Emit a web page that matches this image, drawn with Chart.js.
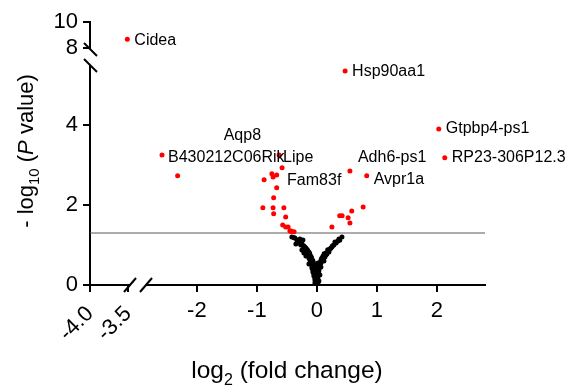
<!DOCTYPE html>
<html><head><meta charset="utf-8">
<script src="https://cdn.jsdelivr.net/npm/chart.js@4/dist/chart.umd.min.js"></script>
<style>html,body{margin:0;padding:0;background:#fff}#wrap{width:572px;height:389px;position:relative}</style>
</head><body><div id="wrap"><canvas id="c" width="572" height="389"></canvas></div>
<script>
// ---- data ----
const geneNames = ['Hsp90aa1','Gtpbp4-ps1','RP23-306P12.3','Adh6-ps1','Avpr1a','B430212C06Rik','Lipe','Fam83f','Aqp8'];
const geneX     = [0.47, 2.03, 2.13, 0.55, 0.83, -2.58, -0.63, -0.58, -0.67];
const geneY     = [5.35, 3.90, 3.18, 2.85, 2.73, 3.25, 3.25, 2.93, 2.75];
const brokenGeneNames = ['Cidea'];
const brokenGeneX = [-3.51];
const brokenGeneY = [8.64];
const redX = [-2.32,-0.75,-0.73,-0.88,-0.67,-0.72,-0.90,-0.73,-0.55,-0.72,-0.52,-0.57,-0.52,-0.48,-0.45,-0.42,-0.38,-0.43,
              0.77,0.58,0.38,0.42,0.52,0.55,0.25];
const redY = [2.73,2.78,2.70,2.63,2.43,2.18,1.93,1.93,1.93,1.78,1.70,1.50,1.45,1.45,1.35,1.33,1.33,1.35,
              1.95,1.85,1.73,1.73,1.68,1.55,1.45];
const blackX = [-0.417,-0.367,-0.333,-0.283,-0.233,-0.30,-0.267,-0.217,-0.20,-0.167,-0.15,-0.183,-0.133,-0.117,-0.10,-0.133,-0.083,-0.083,-0.067,-0.067,-0.05,-0.05,-0.033,-0.033,-0.017,-0.017,0.0,
                0.417,0.367,0.30,0.283,0.233,0.20,0.167,0.133,0.10,0.083,0.067,0.05,0.033,0.033,0.017,0.017,0.017,0.0,
                -0.35,-0.25,-0.217,-0.117,-0.10,-0.067,-0.05,-0.033,0.0,0.0,-0.017,0.017,0.033,-0.033,0.05,0.067,0.117,0.15,0.25,0.35,-0.20,-0.15,-0.25,0.0,0.0,-0.017,0.017,
                -0.01,0.01,0.0,-0.02,0.02,0.0,-0.01,0.01,-0.02,0.02,0.0,-0.03,0.03,-0.02,0.01,-0.04,0.04,-0.03,0.02,-0.05,0.05,-0.06,0.06,-0.07,0.07,-0.09,0.08,-0.10,-0.12,0.10,-0.13,-0.16,-0.18,-0.22,-0.25,-0.28,-0.32,-0.38,0.12,0.15,0.18,0.22,0.26,0.32,0.38];
const blackY = [1.20,1.175,1.125,1.15,1.125,1.05,1.00,0.925,0.875,0.825,0.775,0.725,0.675,0.625,0.575,0.525,0.475,0.425,0.375,0.325,0.275,0.225,0.175,0.125,0.075,0.025,0.0,
                1.20,1.15,1.075,1.00,0.925,0.825,0.775,0.70,0.65,0.60,0.55,0.50,0.425,0.375,0.30,0.225,0.15,0.075,
                1.025,0.875,0.80,0.725,0.65,0.45,0.35,0.25,0.20,0.30,0.15,0.05,0.10,0.05,0.25,0.45,0.60,0.75,0.95,1.10,0.95,0.85,1.10,0.10,0.40,0.50,0.55,
                0.02,0.03,0.05,0.08,0.09,0.12,0.16,0.18,0.22,0.24,0.27,0.30,0.33,0.36,0.38,0.42,0.44,0.47,0.48,0.52,0.53,0.57,0.58,0.62,0.63,0.68,0.67,0.72,0.78,0.72,0.82,0.88,0.92,0.98,1.02,1.08,1.12,1.18,0.78,0.80,0.88,0.90,0.98,1.05,1.12];
const threshold = 1.3;
const xTicksMain = [-2,-1,0,1,2];
const xTicksLeft = [-4.0,-3.5];
const yTicksLow  = [0,2,4];
const yTicksHigh = [8,10];
const xMainRange = [-2.98, 2.8];
const xLeftRange = [-4.0, -3.37];
const yLowRange  = [0, 5.7];
const yHighRange = [7.255, 10];

// ---- styling ----
const FONT = "'Liberation Sans', Arial, sans-serif";
const labelOffsets = {
  'Cidea':[7,1],'Hsp90aa1':[7,1],'Gtpbp4-ps1':[7,0],'RP23-306P12.3':[7,0],'Adh6-ps1':[8,-13],
  'Avpr1a':[7,4],'B430212C06Rik':[6,3],'Lipe':[4,3],'Fam83f':[5,13],'Aqp8':[-53,-39]
};
const pts = (xs, ys) => xs.map((v,i)=>({x:v,y:ys[i]}));
const axisCommon = (extra) => Object.assign({
  type:'linear',
  grid:{drawOnChartArea:false, drawTicks:true, tickLength:7, color:'#000', lineWidth:2},
  border:{display:true, color:'#000', width:2},
}, extra);
const tickFont = {family:FONT, size:22};

const annot = {
  id:'annot',
  afterDraw(chart){
    const ctx = chart.ctx;
    const xs = chart.scales.x, ys = chart.scales.y, xl = chart.scales.xL, yt = chart.scales.yTop;
    ctx.save();
    // axis breaks
    const bx = xs.left, ay = xs.top;
    ctx.fillStyle = '#fff';
    ctx.fillRect(bx-8, ay-4, 16, 8);
    ctx.strokeStyle = '#000'; ctx.lineWidth = 2;
    [bx-8, bx+8].forEach(cx=>{ctx.beginPath();ctx.moveTo(cx-6, ay+7);ctx.lineTo(cx+6, ay-7);ctx.stroke();});
    const by = ys.top, ax = ys.right;
    ctx.fillStyle = '#fff';
    ctx.fillRect(ax-4, by-8, 8, 16);
    [by-8, by+8].forEach(cy=>{ctx.beginPath();ctx.moveTo(ax-6, cy-6);ctx.lineTo(ax+7, cy+7);ctx.stroke();});
    // gene labels
    ctx.fillStyle = '#000';
    ctx.font = '16px ' + FONT;
    ctx.textBaseline = 'middle';
    ctx.textAlign = 'left';
    geneNames.forEach((n,i)=>{
      const o = labelOffsets[n] || [6,0];
      ctx.fillText(n, xs.getPixelForValue(geneX[i]) + o[0], ys.getPixelForValue(geneY[i]) + o[1]);
    });
    brokenGeneNames.forEach((n,i)=>{
      const o = labelOffsets[n] || [6,0];
      ctx.fillText(n, xl.getPixelForValue(brokenGeneX[i]) + o[0], yt.getPixelForValue(brokenGeneY[i]) + o[1]);
    });
    // axis titles
    ctx.textBaseline = 'alphabetic';
    const drawParts = (parts, cx, cy) => {
      let w = 0;
      parts.forEach(p=>{ctx.font = p.f; w += ctx.measureText(p.t).width;});
      let x = cx - w/2;
      parts.forEach(p=>{ctx.font = p.f; ctx.fillText(p.t, x, cy + (p.dy||0)); x += ctx.measureText(p.t).width;});
    };
    drawParts([
      {t:'log', f:'24.5px '+FONT},
      {t:'2', f:'16px '+FONT, dy:7},
      {t:' (fold change)', f:'24.5px '+FONT}
    ], 287, 378);
    ctx.save();
    ctx.translate(33, 151);
    ctx.rotate(-Math.PI/2);
    drawParts([
      {t:'- log', f:'22px '+FONT},
      {t:'10', f:'15px '+FONT, dy:6},
      {t:' (', f:'22px '+FONT},
      {t:'P', f:'italic 22px '+FONT},
      {t:' value)', f:'22px '+FONT}
    ], 0, 0);
    ctx.restore();
    ctx.restore();
  }
};

new Chart(document.getElementById('c'), {
  type:'scatter',
  data:{datasets:[
    {label:'ns', data:pts(blackX, blackY), xAxisID:'x', yAxisID:'y', backgroundColor:'#000', borderWidth:0, pointRadius:2.5, order:2},
    {label:'sig', data:pts(redX.concat(geneX), redY.concat(geneY)), xAxisID:'x', yAxisID:'y', backgroundColor:'#ff0000', borderWidth:0, pointRadius:2.5, order:1},
    {label:'sigTop', data:pts(brokenGeneX, brokenGeneY), xAxisID:'xL', yAxisID:'yTop', backgroundColor:'#ff0000', borderWidth:0, pointRadius:2.5},
    {label:'thrMain', data:[{x:xMainRange[0],y:threshold},{x:xMainRange[1],y:threshold}], xAxisID:'x', yAxisID:'y', showLine:true, borderColor:'#5a5a5a', borderWidth:1.2, pointRadius:0, order:3},
    {label:'thrLeft', data:[{x:xLeftRange[0],y:threshold},{x:xLeftRange[1],y:threshold}], xAxisID:'xL', yAxisID:'y', showLine:true, borderColor:'#5a5a5a', borderWidth:1.2, pointRadius:0, order:3}
  ]},
  options:{
    responsive:false, animation:false, devicePixelRatio:1,
    layout:{padding:{top:22,right:87,bottom:0,left:0}},
    plugins:{legend:{display:false}, tooltip:{enabled:false}},
    scales:{
      xL: axisCommon({position:'bottom', stack:'xs', stackWeight:48, weight:0, min:xLeftRange[0], max:xLeftRange[1],
        afterBuildTicks:s=>{s.ticks = xTicksLeft.map(v=>({value:v}));},
        afterFit:s=>{s.height = 104;},
        ticks:{font:tickFont, color:'#000', minRotation:45, maxRotation:45, autoSkip:false, padding:9, callback:v=>Number(v).toFixed(1)}}),
      x: axisCommon({position:'bottom', stack:'xs', stackWeight:347, weight:1, min:xMainRange[0], max:xMainRange[1],
        afterBuildTicks:s=>{s.ticks = xTicksMain.map(v=>({value:v}));},
        afterFit:s=>{s.height = 104;},
        ticks:{font:tickFont, color:'#000', minRotation:0, maxRotation:0, autoSkip:false, padding:6, callback:v=>String(v)}}),
      yTop: axisCommon({position:'left', stack:'ys', stackWeight:35, weight:1, min:yHighRange[0], max:yHighRange[1],
        afterBuildTicks:s=>{s.ticks = yTicksHigh.map(v=>({value:v}));},
        afterFit:s=>{s.width = 90;},
        ticks:{font:tickFont, color:'#000', padding:5, autoSkip:false, callback:v=>String(v)}}),
      y: axisCommon({position:'left', stack:'ys', stackWeight:228, weight:0, min:yLowRange[0], max:yLowRange[1],
        afterBuildTicks:s=>{s.ticks = yTicksLow.map(v=>({value:v}));},
        afterFit:s=>{s.width = 90;},
        ticks:{font:tickFont, color:'#000', padding:5, autoSkip:false, callback:v=>String(v)}})
    }
  },
  plugins:[annot]
});
</script></body></html>
